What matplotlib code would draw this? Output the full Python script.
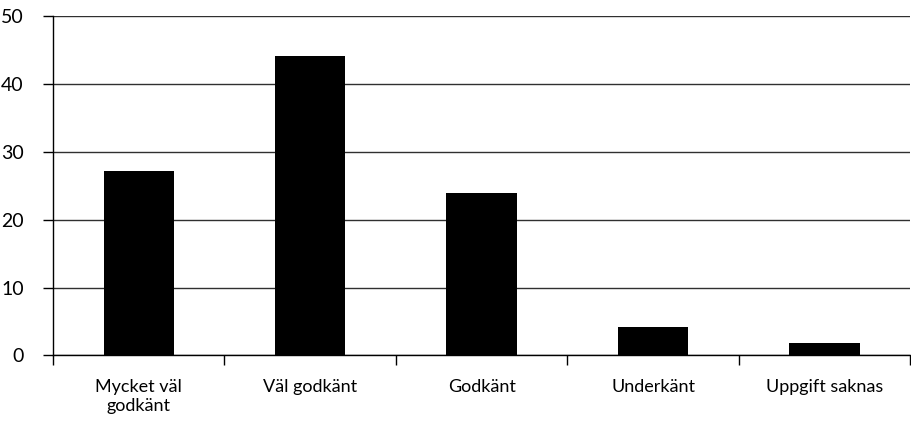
import numpy as np
import matplotlib.pyplot as plt

plt.rcParams['font.family'] = ['Lato', 'DejaVu Sans']

# ===== 数据 =====
kategorier = ['Mycket väl\ngodkänt', 'Väl godkänt', 'Godkänt', 'Underkänt', 'Uppgift saknas']
andel = [27.1, 44.1, 23.9, 4.2, 1.9]
yticks = [0, 10, 20, 30, 40, 50]

fig = plt.figure(figsize=(9.12, 4.23), dpi=100)
ax = fig.add_axes([0.0581, 0.1596, 0.9399, 0.8026])

x = np.arange(len(kategorier))
ax.bar(x, andel, width=0.41, color='black', zorder=3)

ax.set_xlim(-0.5, len(kategorier) - 0.5)
ax.set_ylim(0, 50)
ax.set_yticks(yticks)
ax.yaxis.grid(True, color='#303030', linewidth=1, zorder=0)

# x-axis: labels at centres, tick marks between categories
ax.set_xticks(x)
ax.set_xticklabels(kategorier, fontsize=13, linespacing=1.25)
ax.set_xticks(np.arange(-0.5, len(kategorier)), minor=True)
ax.tick_params(axis='x', which='major', length=0, pad=17)
ax.tick_params(axis='x', which='minor', length=7, width=1, color='black', direction='out')
ax.tick_params(axis='y', length=7, width=1, labelsize=14, pad=14)

for s in ['top', 'right']:
    ax.spines[s].set_visible(False)
for s in ['left', 'bottom']:
    ax.spines[s].set_linewidth(1)
    ax.spines[s].set_color('black')

fig.savefig('out.png', dpi=100)
